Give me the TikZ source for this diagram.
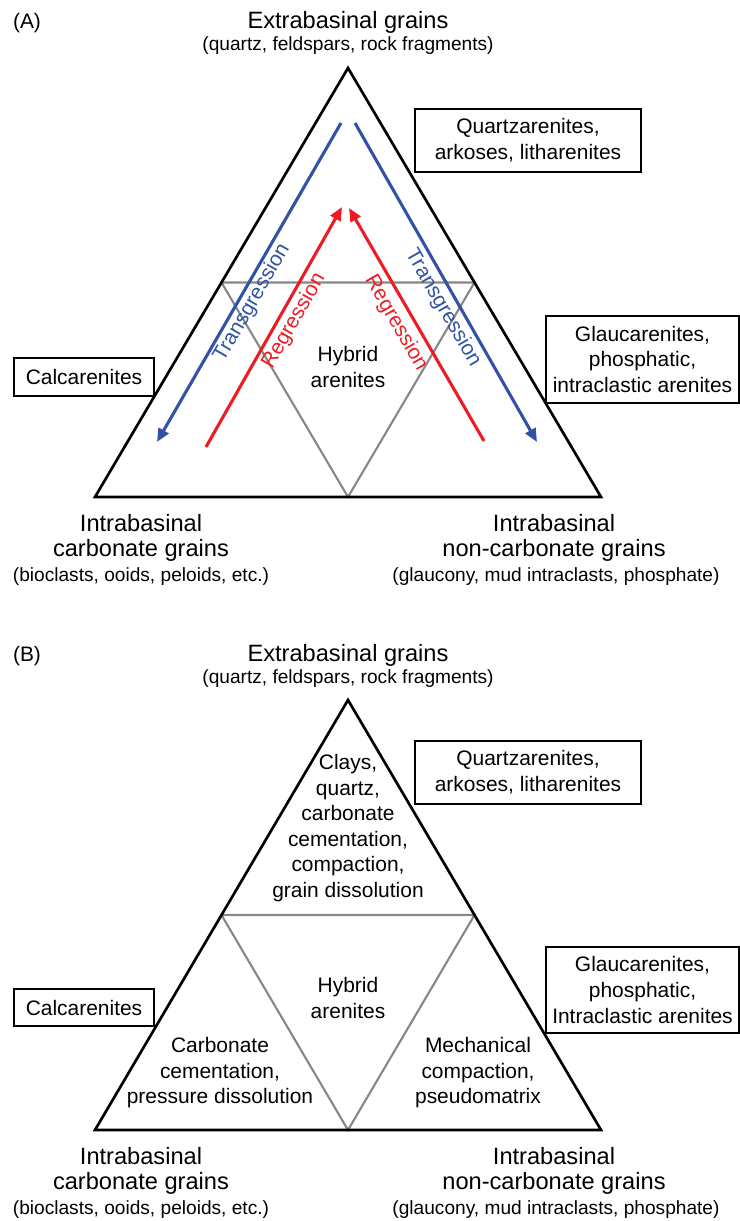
\documentclass[tikz,border=0pt]{standalone}
\usepackage{fontspec}
\setmainfont{Liberation Sans}
\usepackage{tikz}
\usetikzlibrary{arrows.meta}
\usetikzlibrary{calc}
\definecolor{transblue}{RGB}{50,82,165}
\definecolor{regred}{RGB}{237,28,36}
\definecolor{fieldgray}{RGB}{135,135,135}

\begin{document}
\begin{tikzpicture}[x=0.025cm,y=-0.025cm,
  outer/.style={line width=1.9pt,black},
  fields/.style={line width=1.5pt,fieldgray},
  transarrow/.style={line width=2.2pt,transblue,-{Triangle[length=9.5pt,width=8pt]}},
  regarrow/.style={line width=2.2pt,regred,-{Triangle[length=9.5pt,width=8pt]}},
  body/.style={font=\fontsize{14.9}{18.1}\selectfont,align=center,inner sep=0pt},
  pole/.style={font=\fontsize{16.8}{19}\selectfont,anchor=base,inner sep=0pt},
  poledetail/.style={font=\fontsize{13.6}{16}\selectfont,anchor=base,inner sep=0pt},
  rockbox/.style={draw,line width=0.8pt,font=\fontsize{14.9}{18.3}\selectfont,align=center,inner sep=0pt}]
\useasboundingbox (0,0) rectangle (740,1221);

\node[body,anchor=base] (Atag) at (27,29) {(A)};
\node[pole] (Aextra) at (348,29) {Extrabasinal grains};
\node[poledetail] (Aextrad) at (348,51) {(quartz, feldspars, rock fragments)};
\coordinate (Atop) at (348,68);
\coordinate (Aleft) at (95,497);
\coordinate (Aright) at (601,497);
\coordinate (Aml) at ($(Atop)!0.5!(Aleft)$);
\coordinate (Amr) at ($(Atop)!0.5!(Aright)$);
\coordinate (Amb) at ($(Aleft)!0.5!(Aright)$);
\draw[fields] (Aml) -- (Amr) -- (Amb) -- cycle;
\draw[outer] (Atop) -- (Aleft) -- (Aright) -- cycle;
\coordinate (Atl1) at (341,123);
\coordinate (Atl2) at (157,442);
\coordinate (Atr1) at (355,123);
\coordinate (Atr2) at (537,442);
\coordinate (Arl1) at (206,447);
\coordinate (Arl2) at (342,207);
\coordinate (Arr1) at (484,441);
\coordinate (Arr2) at (349,208);
\draw[transarrow] (Atl1) -- (Atl2);
\draw[transarrow] (Atr1) -- (Atr2);
\draw[regarrow] (Arl1) -- (Arl2);
\draw[regarrow] (Arr1) -- (Arr2);
\node[body,text=transblue,rotate=60] (AtransL) at (252,303) {Transgression};
\node[body,text=transblue,rotate=-60] (AtransR) at (443,308) {Transgression};
\node[body,text=regred,rotate=60] (AregL) at (294,321) {Regression};
\node[body,text=regred,rotate=-60] (AregR) at (396,323) {Regression};
\node[body] (Ahybrid) at (348,367) {Hybrid\\arenites};
\node[rockbox,minimum width=5.65cm,minimum height=1.575cm] (Aquartz) at (528,140.5) {Quartzarenites,\\arkoses, litharenites};
\node[rockbox,minimum width=3.5cm,minimum height=0.95cm] (Acalc) at (84,377) {Calcarenites};
\node[rockbox,minimum width=4.825cm,minimum height=2.175cm] (Aglauc) at (642.5,359.5) {Glaucarenites,\\phosphatic,\\intraclastic arenites};
\node[pole] (Acarb1) at (141,531) {Intrabasinal};
\node[pole] (Acarb2) at (141,556) {carbonate grains};
\node[poledetail] (Acarbd) at (141,581) {(bioclasts, ooids, peloids, etc.)};
\node[pole] (Anon1) at (554,531) {Intrabasinal};
\node[pole] (Anon2) at (554,556) {non-carbonate grains};
\node[poledetail] (Anond) at (556,581) {(glaucony, mud intraclasts, phosphate)};

\node[body,anchor=base] (Btag) at (27,661) {(B)};
\node[pole] (Bextra) at (348,661) {Extrabasinal grains};
\node[poledetail] (Bextrad) at (348,683) {(quartz, feldspars, rock fragments)};
\coordinate (Btop) at (348,700);
\coordinate (Bleft) at (95,1130);
\coordinate (Bright) at (601,1130);
\coordinate (Bml) at ($(Btop)!0.5!(Bleft)$);
\coordinate (Bmr) at ($(Btop)!0.5!(Bright)$);
\coordinate (Bmb) at ($(Bleft)!0.5!(Bright)$);
\draw[fields] (Bml) -- (Bmr) -- (Bmb) -- cycle;
\draw[outer] (Btop) -- (Bleft) -- (Bright) -- cycle;
\node[body] (Bupper) at (348,828) {Clays,\\quartz,\\carbonate\\cementation,\\compaction,\\grain dissolution};
\node[body] (Bhybrid) at (348,998) {Hybrid\\arenites};
\node[body] (Bcarb) at (220,1073) {Carbonate\\cementation,\\pressure dissolution};
\node[body] (Bmech) at (478,1073) {Mechanical\\compaction,\\pseudomatrix};
\node[rockbox,minimum width=5.65cm,minimum height=1.575cm] (Bquartz) at (528,772.5) {Quartzarenites,\\arkoses, litharenites};
\node[rockbox,minimum width=3.5cm,minimum height=0.925cm] (Bcalc) at (84,1007.5) {Calcarenites};
\node[rockbox,minimum width=4.825cm,minimum height=2.15cm] (Bglauc) at (642.5,990) {Glaucarenites,\\phosphatic,\\Intraclastic arenites};
\node[pole] (Bcarb1) at (141,1164) {Intrabasinal};
\node[pole] (Bcarb2) at (141,1189) {carbonate grains};
\node[poledetail] (Bcarbd) at (141,1214) {(bioclasts, ooids, peloids, etc.)};
\node[pole] (Bnon1) at (554,1164) {Intrabasinal};
\node[pole] (Bnon2) at (554,1189) {non-carbonate grains};
\node[poledetail] (Bnond) at (556,1214) {(glaucony, mud intraclasts, phosphate)};
\end{tikzpicture}
\end{document}
